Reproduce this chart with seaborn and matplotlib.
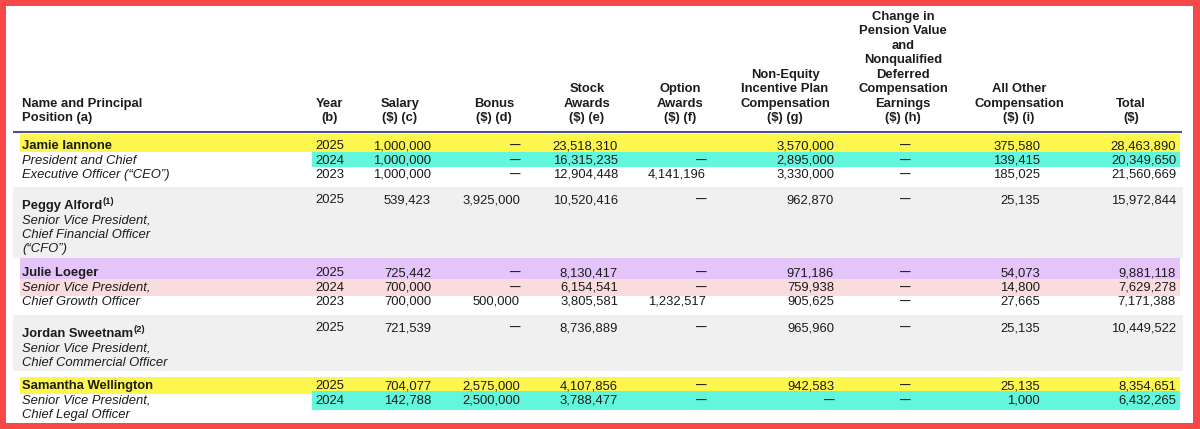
import numpy as np
import pandas as pd
import matplotlib
matplotlib.use("Agg")
import matplotlib.pyplot as plt
from matplotlib.patches import Rectangle
import seaborn as sns

# Data

names = ["Jamie Iannone", "Peggy Alford", "Julie Loeger", "Jordan Sweetnam", "Samantha Wellington"]
footnotes = ["", "(1)", "", "(2)", ""]
titles = [
    ["President and Chief", "Executive Officer (\u201cCEO\u201d)"],
    ["Senior Vice President,", "Chief Financial Officer", "(\u201cCFO\u201d)"],
    ["Senior Vice President,", "Chief Growth Officer"],
    ["Senior Vice President,", "Chief Commercial Officer"],
    ["Senior Vice President,", "Chief Legal Officer"],
]
years = [[2025, 2024, 2023], [2025], [2025, 2024, 2023], [2025], [2025, 2024]]

# np.nan -> dash, "" -> empty cell
salary = [[1000000, 1000000, 1000000], [539423], [725442, 700000, 700000], [721539], [704077, 142788]]
bonus = [[np.nan, np.nan, np.nan], [3925000], [np.nan, np.nan, 500000], [np.nan], [2575000, 2500000]]
stock = [[23518310, 16315235, 12904448], [10520416], [8130417, 6154541, 3805581], [8736889], [4107856, 3788477]]
option = [["", np.nan, 4141196], [np.nan], [np.nan, np.nan, 1232517], [np.nan], [np.nan, np.nan]]
non_equity = [[3570000, 2895000, 3330000], [962870], [971186, 759938, 905625], [965960], [942583, np.nan]]
pension = [[np.nan, np.nan, np.nan], [np.nan], [np.nan, np.nan, np.nan], [np.nan], [np.nan, np.nan]]
all_other = [[375580, 139415, 185025], [25135], [54073, 14800, 27665], [25135], [25135, 1000]]
total = [[28463890, 20349650, 21560669], [15972844], [9881118, 7629278, 7171388], [10449522], [8354651, 6432265]]

headers = [
    ["Year", "(b)"],
    ["Salary", "($) (c)"],
    ["Bonus", "($) (d)"],
    ["Stock", "Awards", "($) (e)"],
    ["Option", "Awards", "($) (f)"],
    ["Non-Equity", "Incentive Plan", "Compensation", "($) (g)"],
    ["Change in", "Pension Value", "and", "Nonqualified", "Deferred", "Compensation", "Earnings", "($) (h)"],
    ["All Other", "Compensation", "($) (i)"],
    ["Total", "($)"],
]
name_header = ["Name and Principal", "Position (a)"]

rows = []
for b in range(len(names)):
    for r in range(len(years[b])):
        rows.append(dict(block=b, row=r, year=years[b][r], salary=salary[b][r], bonus=bonus[b][r],
                         stock=stock[b][r], option=option[b][r], non_equity=non_equity[b][r],
                         pension=pension[b][r], all_other=all_other[b][r], total=total[b][r]))
df = pd.DataFrame(rows).astype(object)
value_cols = ["salary", "bonus", "stock", "option", "non_equity", "pension", "all_other", "total"]

# Layout / style

sns.set_theme(style="white")
plt.rcParams["font.family"] = ["Liberation Sans", "DejaVu Sans"]

FS = 9.4
INK = "#1c1c1c"
RED = "#f74848"
GRAY = "#f0f0f0"
YELLOW = "#fdf64c"
CYAN = "#62f6dd"
PURPLE = "#e5c4fa"
PINK = "#fbdcdc"

col_right = [431, 520, 618, 706, 834, 910, 1040, 1176]
head_center = [330, 400, 494, 587, 680, 785, 903, 1019, 1131]
year_right = 344
name_x = 22
pitch = 14.2
block_y = [145, 199, 272, 327, 385]
shaded = [False, True, False, True, False]
# (block, row, colour, x0, pad_top, pad_bottom)
highlights = [
    (0, 0, YELLOW, 20, 11, 7.1),
    (0, 1, CYAN, 312, 7.1, 7.5),
    (2, 0, PURPLE, 20, 14, 7.1),
    (2, 1, PINK, 20, 7.1, 9.5),
    (4, 0, YELLOW, 20, 8, 8.5),
    (4, 1, CYAN, 312, 8.5, 11),
]


def fmt(v):
    if isinstance(v, str):
        return v
    if isinstance(v, float) and np.isnan(v):
        return "\u2014"
    return f"{v:,.0f}"


fig = plt.figure(figsize=(12, 4.29), dpi=100)
fig.patch.set_facecolor(RED)
ax = fig.add_axes([0, 0, 1, 1])
ax.set_xlim(0, 1200)
ax.set_ylim(429, 0)
ax.axis("off")

ax.add_patch(Rectangle((6, 6), 1187, 417, facecolor="white", edgecolor="none", zorder=0))

# header
for k, line in enumerate(reversed(name_header)):
    ax.text(name_x, 117 + 4.4 - k * 14.5, line, ha="left", va="baseline",
            fontsize=FS, fontweight="bold", color=INK)
for cx, lines in zip(head_center, headers):
    for k, line in enumerate(reversed(lines)):
        ax.text(cx, 117 + 4.4 - k * 14.5, line, ha="center", va="baseline",
                fontsize=FS, fontweight="bold", color=INK)
ax.plot([13, 1182], [131.5, 131.5], color="#4d4d9e", lw=1.5, solid_capstyle="butt")

renderer = fig.canvas.get_renderer()

for b in range(len(names)):
    y0 = block_y[b]
    name_y = y0 + (6 if footnotes[b] else 0)
    if shaded[b]:
        bottom = name_y + pitch * len(titles[b]) + 10
        ax.add_patch(Rectangle((13, y0 - 12), 1170, bottom - (y0 - 12),
                               facecolor=GRAY, edgecolor="none", zorder=0.5))
    for (hb, hr, colr, x0, pt, pb) in highlights:
        if hb == b:
            yc = y0 + hr * pitch
            ax.add_patch(Rectangle((x0, yc - pt), 1180 - x0, pt + pb,
                                   facecolor=colr, edgecolor="none", zorder=1))

    t = ax.text(name_x, name_y + 4.4, names[b], ha="left", va="baseline",
                fontsize=FS, fontweight="bold", color=INK, zorder=3)
    if footnotes[b]:
        bb = t.get_window_extent(renderer)
        x_end = ax.transData.inverted().transform((bb.x1, bb.y0))[0]
        ax.text(x_end + 0.5, name_y - 1.5, footnotes[b], ha="left", va="baseline",
                fontsize=6.8, fontweight="bold", color=INK, zorder=3)
    for k, line in enumerate(titles[b]):
        ax.text(name_x, name_y + (k + 1) * pitch + 4.4, line, ha="left", va="baseline",
                fontsize=FS, fontstyle="italic", color=INK, zorder=3)

    sub = df[df.block == b]
    for _, rec in sub.iterrows():
        yc = y0 + rec["row"] * pitch
        ax.text(year_right, yc + 4.4, str(int(rec["year"])), ha="right", va="baseline",
                fontsize=FS, color=INK, zorder=3)
        for xr, col in zip(col_right, value_cols):
            s = fmt(rec[col])
            if s == "\u2014":
                ax.text(xr, yc + 4.2, s, ha="right", va="baseline",
                        fontsize=7.6, fontweight="bold", color=INK, zorder=3)
            elif s:
                ax.text(xr, yc + 4.4, s, ha="right", va="baseline",
                        fontsize=FS, color=INK, zorder=3)

fig.savefig("out.png", dpi=100, facecolor=fig.get_facecolor())
